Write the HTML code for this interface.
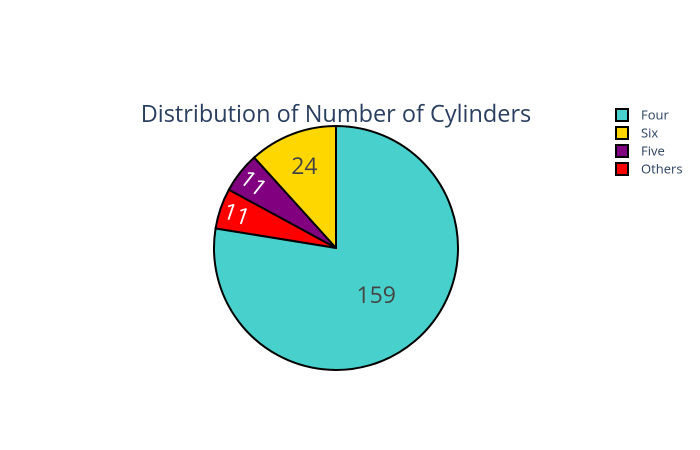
<!DOCTYPE html>
<html><head><meta charset="utf-8"><style>
body{margin:0;background:#fff;}
svg{display:block;font-family:"Open Sans","Liberation Sans",sans-serif;}
</style></head><body>
<svg id="chart" width="700" height="450">
<text x="336" y="122" font-size="23.5" fill="#2a3f5f" text-anchor="middle">Distribution of Number of Cylinders</text>
<g id="slices"></g>
<g id="legend"></g>
</svg>
<script>
const categories = ["Six","Five","Others","Four"];
const values = [24, 11, 11, 159];
const colors = ["#ffd700","#800080","#ff0000","#48d1cc"];
const legendOrder = ["Four","Six","Five","Others"];
const labelColors = ["#444","#fff","#fff","#444"];

const cx=336, cy=248, R=122;
const NS="http://www.w3.org/2000/svg";
const total = values.reduce((a,b)=>a+b,0);
function pt(angCcwDeg, r){ const a=angCcwDeg*Math.PI/180; return [cx - r*Math.sin(a), cy - r*Math.cos(a)]; }
const g=document.getElementById('slices');
let start=0;
values.forEach((v,i)=>{
  const sweep=v/total*360, end=start+sweep;
  const p1=pt(start,R), p2=pt(end,R);
  const large=sweep>180?1:0;
  const path=document.createElementNS(NS,'path');
  path.setAttribute('d',`M${cx},${cy}L${p1[0]},${p1[1]}A${R},${R} 0 ${large} 0 ${p2[0]},${p2[1]}Z`);
  path.setAttribute('fill',colors[i]); path.setAttribute('stroke','#000'); path.setAttribute('stroke-width','2');
  
  
  g.appendChild(path);
  const mid=(start+end)/2;
  let r, rot=0;
  if(sweep>180){ r=62; }
  else if(sweep>30){ r=88; }
  else { r=105; rot=90-mid; }
  const lp=pt(mid,r);
  const t=document.createElementNS(NS,'text');
  t.setAttribute('x',lp[0]); t.setAttribute('y',lp[1]+8);
  t.setAttribute('text-anchor','middle'); t.setAttribute('font-size','23');
  t.setAttribute('fill',labelColors[i]);
  if(rot) t.setAttribute('transform',`rotate(${rot} ${lp[0]} ${lp[1]})`);
  t.textContent=values[i];
  
  
  g.appendChild(t);
  start=end;
});
const lg=document.getElementById('legend');
legendOrder.forEach((name,j)=>{
  const i=categories.indexOf(name);
  const y=115+j*18;
  const item=document.createElementNS(NS,'g');
  
  
  const rc=document.createElementNS(NS,'rect');
  rc.setAttribute('x',616); rc.setAttribute('y',y-6); rc.setAttribute('width',12); rc.setAttribute('height',12);
  rc.setAttribute('fill',colors[i]); rc.setAttribute('stroke','#000'); rc.setAttribute('stroke-width','2');
  item.appendChild(rc);
  const tx=document.createElementNS(NS,'text');
  tx.setAttribute('x',641); tx.setAttribute('y',y+4.5); tx.setAttribute('font-size','13'); tx.setAttribute('fill','#2a3f5f');
  tx.textContent=name;
  item.appendChild(tx);
  lg.appendChild(item);
});
</script>
</body></html>
